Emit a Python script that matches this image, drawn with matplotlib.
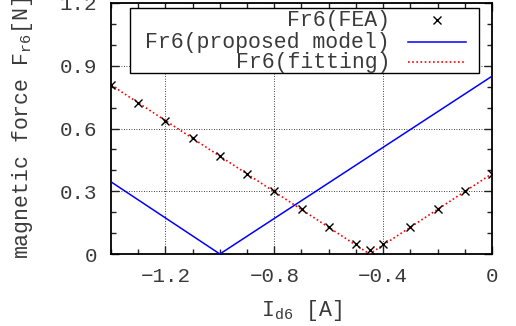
import matplotlib
matplotlib.use("Agg")
import matplotlib.pyplot as plt
from matplotlib.ticker import MultipleLocator
from matplotlib.patches import Rectangle
from matplotlib.lines import Line2D

plt.rcParams['font.family'] = ['Liberation Mono', 'DejaVu Sans Mono']
plt.rcParams['mathtext.fontset'] = 'custom'
plt.rcParams['mathtext.rm'] = 'Liberation Mono'
plt.rcParams['mathtext.it'] = 'Liberation Mono'
plt.rcParams['font.size'] = 15

# FEA data
fea_x = [-1.4, -1.3, -1.2, -1.1, -1.0, -0.9, -0.8, -0.7, -0.6, -0.5, -0.45,
         -0.4, -0.3, -0.2, -0.1, 0.0]
fea_y = [0.806, 0.722, 0.637, 0.554, 0.470, 0.384, 0.300, 0.214, 0.130, 0.046, 0.017,
         0.046, 0.130, 0.214, 0.300, 0.384]
# proposed model
model_x = [-1.4, -1.0, 0.0]
model_y = [0.345, 0.0, 0.850]
# fitting
fit_x = [-1.4, -0.45, 0.0]
fit_y = [0.808, 0.0, 0.384]

labels = ['Fr6(FEA)', 'Fr6(proposed model)', 'Fr6(fitting)']

txtc = '#3a3a3a'

fig = plt.figure(figsize=(5.16, 3.26), dpi=100)
ax = fig.add_axes([111/516, 1-254/326, 381/516, 251/326])

fea_style = dict(linestyle='none', marker='x', color='black', markersize=6, markeredgewidth=1.0)
model_style = dict(color='#0000ff', lw=1.1)
fit_style = dict(color='#ff0000', lw=1.2, linestyle=(0, (1, 1.5)))

ax.plot(fea_x, fea_y, zorder=4, **fea_style)
ax.plot(model_x, model_y, zorder=3, **model_style)
ax.plot(fit_x, fit_y, zorder=3, **fit_style)

ax.set_xlim(-1.4, 0)
ax.set_ylim(0, 1.2)
ax.xaxis.set_minor_locator(MultipleLocator(0.1))
ax.yaxis.set_minor_locator(MultipleLocator(0.1))
ax.set_xticks([-1.2, -0.8, -0.4, 0])
ax.set_xticklabels(['\u22121.2', '\u22120.8', '\u22120.4', '0'])
ax.set_yticks([0, 0.3, 0.6, 0.9, 1.2])
ax.set_yticklabels(['0', '0.3', '0.6', '0.9', '1.2'])

ax.tick_params(which='both', direction='in', top=True, right=True, width=1.0,
               color='#222222', labelcolor=txtc, labelsize=15)
ax.tick_params(which='major', length=6)
ax.tick_params(which='minor', length=3.5)
ax.tick_params(axis='y', which='major', pad=10)
ax.tick_params(axis='x', which='major', pad=9)
for s in ax.spines.values():
    s.set_linewidth(1.3)

ax.grid(True, which='major', color='black', linestyle=(0, (1, 2)), linewidth=0.6)

ax.set_xlabel('I$_{\\mathrm{d6}}$ [A]', labelpad=9, color=txtc, fontsize=15.5)
ax.set_ylabel('magnetic force F$_{\\mathrm{r6}}$[N]', labelpad=18, color=txtc, fontsize=15.5)

# legend (gnuplot style: right-aligned text, sample on the right)
T = ax.transAxes
ax.add_patch(Rectangle((0.0499, 0.721), 0.916, 0.259, transform=T, facecolor='white',
                       edgecolor='black', linewidth=1.0, zorder=5))
rows_y = [0.9323, 0.8446, 0.7649]
styles = [fea_style, model_style, fit_style]
for lab, yy, st in zip(labels, rows_y, styles):
    ax.text(0.7323, yy - 0.003, lab, transform=T, ha='right', va='center', fontsize=15.5,
            color=txtc, zorder=6)
    if st is fea_style:
        ax.add_line(Line2D([0.8556], [yy], transform=T, zorder=6, **st))
    else:
        ax.add_line(Line2D([0.7795, 0.9318], [yy, yy], transform=T, zorder=6, **st))

fig.savefig('out.png', dpi=100)
